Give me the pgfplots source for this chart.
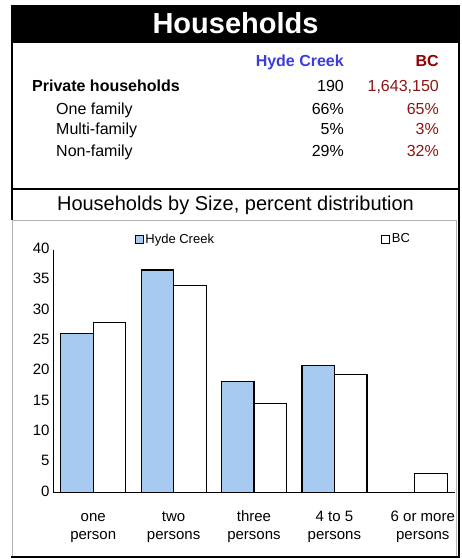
\documentclass[border=0pt]{standalone}
\usepackage{pgfplots}
\pgfplotsset{compat=1.18}
\usepackage{fontspec}
\setmainfont{Liberation Sans}
\definecolor{hydeblue}{RGB}{166,202,240}
\definecolor{hdrblue}{RGB}{60,60,220}
\definecolor{hdrred}{RGB}{150,0,0}
\definecolor{valred}{RGB}{140,20,20}
\begin{document}
\begin{tikzpicture}[x=1pt,y=-1pt]
\path[use as bounding box] (0,0) rectangle (461,559);
% plot area frame
\draw[gray!60, line width=1pt] (12,220.5) rectangle (456,556);
% title band
\fill[black] (11,5) rectangle (460,43);
\node[anchor=base, text=white, font=\fontsize{29}{34}\selectfont\bfseries] at (235.5,33.5) {Households};
% outer black frame
\draw[black, line width=2pt] (12,5) -- (12,220);
\draw[black, line width=2pt] (459,5) -- (459,557) -- (11,557);
\draw[black, line width=2pt] (11,189) -- (460,189);
% table
\begin{scope}[every node/.style={anchor=base, inner sep=0pt, font=\fontsize{16}{19}\selectfont}]
\node[anchor=base east, text=hdrblue, font=\fontsize{16}{19}\selectfont\bfseries] at (344,67) {Hyde Creek};
\node[anchor=base east, text=hdrred, font=\fontsize{16}{19}\selectfont\bfseries] at (439,67) {BC};
\node[anchor=base west, font=\fontsize{16}{19}\selectfont\bfseries] at (32,92) {Private households};
\node[anchor=base west] at (56,114) {One family};
\node[anchor=base west] at (56,135) {Multi-family};
\node[anchor=base west] at (56,156.5) {Non-family};
\node[anchor=base east] at (344,92) {190};
\node[anchor=base east] at (344,114) {66\%};
\node[anchor=base east] at (344,135) {5\%};
\node[anchor=base east] at (344,156.5) {29\%};
\node[anchor=base east, text=valred] at (439,92) {1,643,150};
\node[anchor=base east, text=valred] at (439,114) {65\%};
\node[anchor=base east, text=valred] at (439,135) {3\%};
\node[anchor=base east, text=valred] at (439,156.5) {32\%};
\end{scope}
\node[anchor=base, inner sep=0pt, font=\fontsize{20}{24}\selectfont] at (235.5,210.7) {Households by Size, percent distribution};
\coordinate (O) at (53,492.7);
\begin{axis}[
  at={(O)}, anchor=south west,
  scale only axis, width=402pt, height=242.7pt,
  xmin=-0.5, xmax=4.5, ymin=0, ymax=40,
  axis lines=left, axis line style={-, black, line width=1pt},
  major tick length=0pt,
  ytick={0,5,...,40},
  xtick={0,1,2,3,4},
  typeset ticklabels with strut,
  xticklabels={one\\person, two\\persons, three\\persons, 4 to 5\\persons, \hspace*{16pt}6 or more\\\hspace*{16pt}persons},
  x tick label style={align=center, anchor=north, yshift=-12.5pt, font=\fontsize{15}{18}\selectfont},
  y tick label style={font=\fontsize{15}{18}\selectfont},
  /pgf/number format/assume math mode=true,
  ybar=0pt, bar width=32.5pt,
  legend columns=2,
  legend image code/.code={\draw[#1, line width=0.8pt] (0pt,-4pt) rectangle (8pt,4pt);},
  legend style={draw=none, fill=none, at={(0.195,1.045)}, anchor=west,
    font=\fontsize{13}{16}\selectfont,
    /tikz/every even column/.append style={column sep=165pt}},
]
\addplot[fill=hydeblue, draw=black, line width=1.2pt] coordinates {(0,26.2) (1,36.7) (2,18.35) (3,20.9) (4,0)};
\addplot[fill=white, draw=black, line width=1.2pt] coordinates {(0,28.0) (1,34.2) (2,14.7) (3,19.5) (4,3.2)};
\legend{Hyde Creek, BC}
\end{axis}
\end{tikzpicture}
\end{document}
